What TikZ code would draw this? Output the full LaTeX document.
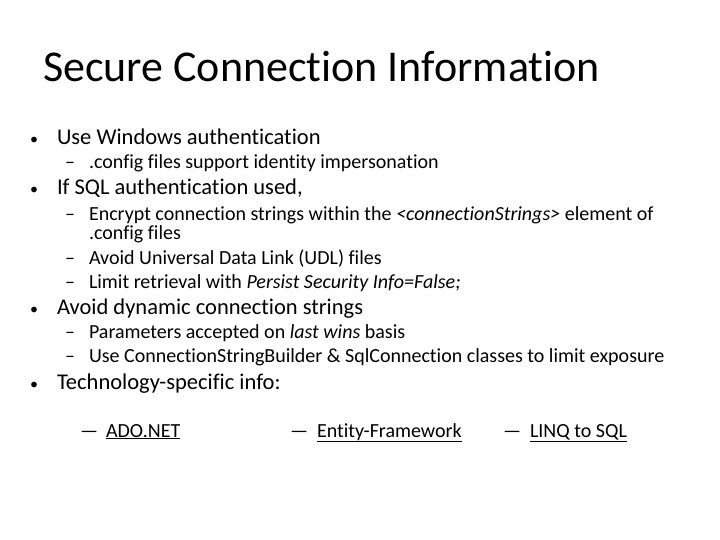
\documentclass[tikz,border=0pt]{standalone}
\usepackage{fontspec}
\setmainfont{Carlito}[Ligatures=NoCommon]
\begin{document}
\begin{tikzpicture}[x=1pt,y=-1pt,
  every node/.style={anchor=base west,inner sep=0pt,outer sep=0pt,text=black},
  lone/.style={font=\fontsize{22.5}{26}\selectfont},
  lbul/.style={font=\fontsize{16}{20}\selectfont},
  ltwo/.style={font=\fontsize{20}{24}\selectfont}]
\useasboundingbox (0,0) rectangle (720,540);
\node[font=\fontsize{44}{52}\selectfont] (title) at (43,82) {Secure Connection Information};
\node[lbul] (b1) at (30,145) {•};
\node[lone] (t1) at (57,145) {Use Windows authentication};
\node[ltwo] (d11) at (65,169) {–};
\node[ltwo] (s11) at (89,169) {.config files support identity impersonation};
\node[lbul] (b2) at (30,195) {•};
\node[lone] (t2) at (57,195) {If SQL authentication used,};
\node[ltwo] (d21) at (65,221) {–};
\node[ltwo] (s21) at (89,221) {Encrypt connection strings within the \textit{<connectionStrings>} element of};
\node[ltwo] (s21b) at (89,240) {.config files};
\node[ltwo] (d22) at (65,264) {–};
\node[ltwo] (s22) at (89,264) {Avoid Universal Data Link (UDL) files};
\node[ltwo] (d23) at (65,288) {–};
\node[ltwo] (s23) at (89,288) {Limit retrieval with \textit{Persist Security Info=False;}};
\node[lbul] (b3) at (30,314) {•};
\node[lone] (t3) at (57,314) {Avoid dynamic connection strings};
\node[ltwo] (d31) at (65,338) {–};
\node[ltwo] (s31) at (89,338) {Parameters accepted on \textit{last wins} basis};
\node[ltwo] (d32) at (65,362) {–};
\node[ltwo] (s32) at (89,362) {Use ConnectionStringBuilder \& SqlConnection classes to limit exposure};
\node[lbul] (b4) at (30,389) {•};
\node[lone] (t4) at (57,389) {Technology-specific info:};
\node[ltwo] (l1d) at (80,437) {—};
\node[ltwo] (l1) at (106,437) {\underline{ADO.NET}};
\node[ltwo] (l2d) at (290,437) {—};
\node[ltwo] (l2) at (317,437) {\underline{Entity-Framework}};
\node[ltwo] (l3d) at (503,437) {—};
\node[ltwo] (l3) at (530,437) {\underline{LINQ to SQL}};
\end{tikzpicture}
\end{document}
